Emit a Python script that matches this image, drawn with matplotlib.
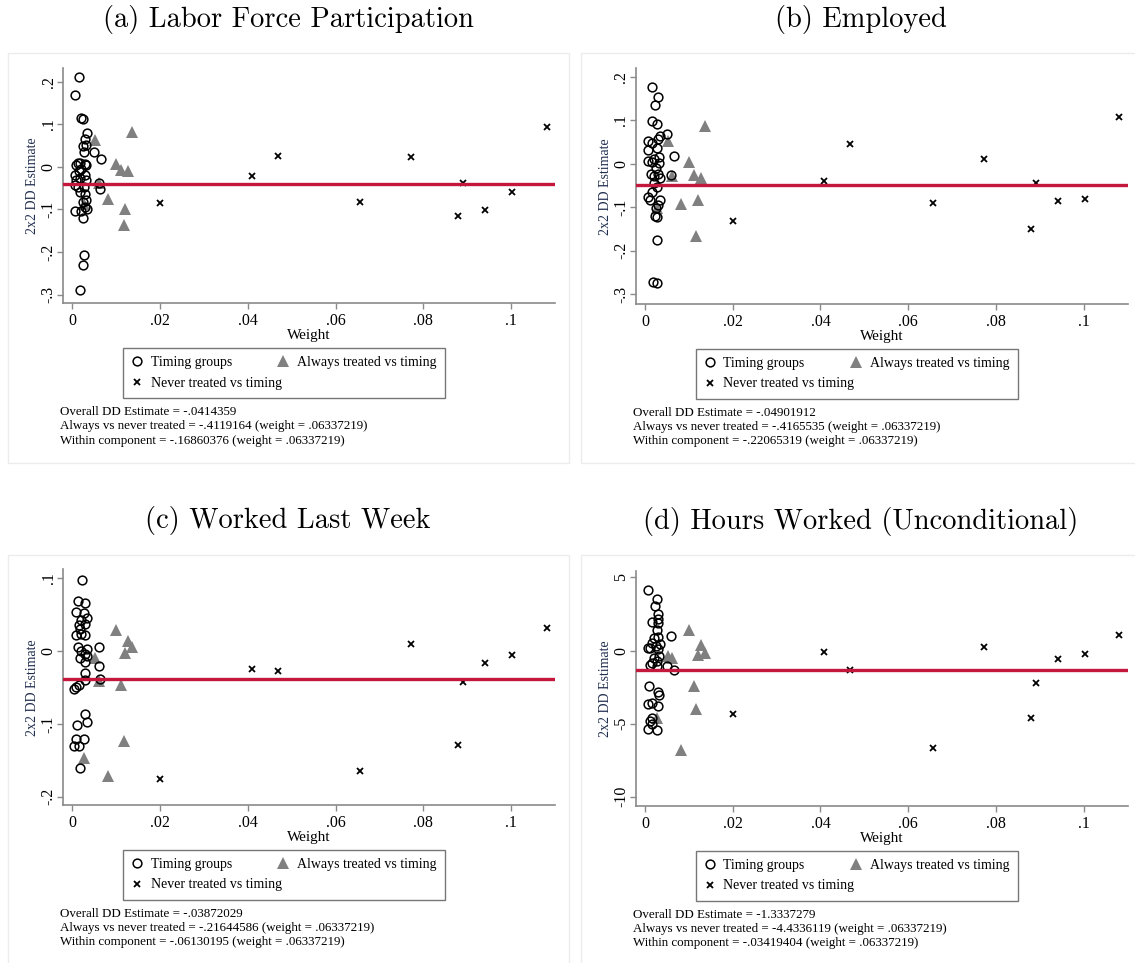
import numpy as np
import matplotlib
matplotlib.use("Agg")
import matplotlib.pyplot as plt
from matplotlib.lines import Line2D
from matplotlib.patches import Rectangle

# ---- data ----
titles = ["(a) Labor Force Participation", "(b) Employed",
          "(c) Worked Last Week", "(d) Hours Worked (Unconditional)"]

always_w = [0.0027, 0.0052, 0.0062, 0.0082, 0.0100, 0.0112, 0.0117, 0.0120, 0.0128, 0.0136]
never_w = [0.0201, 0.0409, 0.0468, 0.0656, 0.0772, 0.0880, 0.0890, 0.0941, 0.1003, 0.1081]

# (a) labor force participation
timing_w_a = [0.00144, 0.00068, 0.00205, 0.00242, 0.00333, 0.00281, 0.0032, 0.00242, 0.00265, 0.00486,
              0.00646, 0.00128, 0.00167, 0.00091, 0.00281, 0.0032, 0.00205, 0.00151, 0.00053, 0.00281,
              0.00183, 0.00091, 0.0032, 0.00053, 0.00128, 0.00258, 0.00607, 0.00623, 0.00183, 0.00281,
              0.0032, 0.00242, 0.00281, 0.00333, 0.00053, 0.00205, 0.00242, 0.00258, 0.00242, 0.00167]
timing_est_a = [0.212, 0.169, 0.114, 0.112, 0.080, 0.065, 0.051, 0.049, 0.034, 0.034,
                0.018, 0.010, 0.008, 0.004, 0.006, 0.004, -0.004, -0.010, -0.020, -0.020,
                -0.027, -0.031, -0.030, -0.043, -0.047, -0.047, -0.039, -0.053, -0.060, -0.063,
                -0.078, -0.082, -0.094, -0.098, -0.104, -0.104, -0.121, -0.206, -0.231, -0.290]
always_est_a = [-0.088, 0.064, -0.038, -0.075, 0.006, -0.008, -0.136, -0.100, -0.009, 0.081]
never_est_a = [-0.084, -0.022, 0.025, -0.082, 0.022, -0.116, -0.037, -0.101, -0.060, 0.094]

# (b) employed
timing_w_b = [0.0016, 0.0030, 0.0023, 0.0016, 0.0027, 0.0050, 0.0035, 0.0030, 0.0008, 0.0016,
              0.0027, 0.0008, 0.0067, 0.0031, 0.0020, 0.0008, 0.0016, 0.0033, 0.0025, 0.0014,
              0.0030, 0.0020, 0.0059, 0.0035, 0.0020, 0.0027, 0.0016, 0.0008, 0.0012, 0.0035,
              0.0030, 0.0025, 0.0023, 0.0027, 0.0027, 0.0018, 0.0027]
timing_est_b = [0.177, 0.153, 0.134, 0.099, 0.090, 0.069, 0.063, 0.057, 0.052, 0.047,
                0.037, 0.032, 0.017, 0.015, 0.011, 0.006, 0.004, 0.001, -0.009, -0.023,
                -0.025, -0.029, -0.027, -0.034, -0.044, -0.054, -0.065, -0.077, -0.083, -0.084,
                -0.096, -0.101, -0.121, -0.122, -0.176, -0.272, -0.275]
always_est_b = [-0.103, 0.053, -0.029, -0.092, 0.004, -0.027, -0.166, -0.084, -0.033, 0.086]
never_est_b = [-0.132, -0.040, 0.044, -0.090, 0.010, -0.151, -0.044, -0.086, -0.082, 0.107]

# (c) worked last week
timing_w_c = [0.0023, 0.0014, 0.0028, 0.0008, 0.0026, 0.0033, 0.0021, 0.0028, 0.0015, 0.0017,
              0.0008, 0.0030, 0.0021, 0.0060, 0.0013, 0.0033, 0.0021, 0.0028, 0.0018, 0.0033,
              0.0030, 0.0061, 0.0064, 0.0030, 0.0028, 0.0015, 0.0009, 0.0005, 0.0030, 0.0033,
              0.0011, 0.0008, 0.0026, 0.0005, 0.0015, 0.0017]
timing_est_c = [0.097, 0.068, 0.066, 0.053, 0.052, 0.045, 0.043, 0.037, 0.036, 0.030,
                0.022, 0.022, 0.024, 0.006, 0.005, 0.003, 0.000, -0.004, -0.010, -0.007,
                -0.015, -0.020, -0.038, -0.030, -0.040, -0.046, -0.049, -0.052, -0.087, -0.098,
                -0.102, -0.121, -0.121, -0.130, -0.130, -0.161]
always_est_c = [-0.147, -0.010, -0.041, -0.172, 0.029, -0.047, -0.123, -0.003, 0.014, 0.005]
never_est_c = [-0.175, -0.024, -0.027, -0.164, 0.009, -0.129, -0.043, -0.016, -0.006, 0.031]

# (d) hours worked
timing_w_d = [0.0008, 0.0027, 0.0023, 0.0030, 0.0030, 0.0030, 0.0015, 0.0027, 0.0059, 0.0020,
              0.0030, 0.0016, 0.0035, 0.0025, 0.0006, 0.0012, 0.0030, 0.0033, 0.0020, 0.0027,
              0.0016, 0.0050, 0.0027, 0.0067, 0.0012, 0.0010, 0.0030, 0.0033, 0.0008, 0.0015,
              0.0030, 0.0016, 0.0012, 0.0016, 0.0008, 0.0027]
timing_est_d = [4.14, 3.52, 3.06, 2.53, 2.14, 1.90, 1.95, 1.40, 0.99, 0.87,
                0.94, 0.53, 0.46, 0.30, 0.19, 0.14, 0.07, -0.35, -0.51, -0.74,
                -0.85, -1.04, -1.08, -1.31, -0.97, -2.46, -2.81, -3.04, -3.66, -3.57,
                -3.78, -4.60, -4.81, -5.04, -5.38, -5.45]
always_est_d = [-4.60, -0.35, -0.50, -6.83, 1.40, -2.42, -4.00, -0.28, 0.37, -0.16]
never_est_d = [-4.35, -0.09, -1.31, -6.67, 0.26, -4.60, -2.23, -0.57, -0.21, 1.06]

overall = [-0.0414359, -0.04901912, -0.03872029, -1.3337279]
always_never = ["-.4119164", "-.4165535", "-.21644586", "-4.4336119"]
within = ["-.16860376", "-.22065319", "-.06130195", "-.03419404"]
overall_txt = ["-.0414359", "-.04901912", "-.03872029", "-1.3337279"]
comp_weight = ".06337219"

x_ticks = [0, 0.02, 0.04, 0.06, 0.08, 0.1]
x_ticklabels = ["0", ".02", ".04", ".06", ".08", ".1"]
y_ticks = [[-0.3, -0.2, -0.1, 0, 0.1, 0.2], [-0.3, -0.2, -0.1, 0, 0.1, 0.2],
           [-0.2, -0.1, 0, 0.1], [-10, -5, 0, 5]]
y_ticklabels = [["-.3", "-.2", "-.1", "0", ".1", ".2"], ["-.3", "-.2", "-.1", "0", ".1", ".2"],
                ["-.2", "-.1", "0", ".1"], ["-10", "-5", "0", "5"]]
y_lims = [(-0.321, 0.232), (-0.3227, 0.2186), (-0.2113, 0.1119), (-10.63, 5.47)]

timing_w = [timing_w_a, timing_w_b, timing_w_c, timing_w_d]
timing_est = [timing_est_a, timing_est_b, timing_est_c, timing_est_d]
always_est = [always_est_a, always_est_b, always_est_c, always_est_d]
never_est = [never_est_a, never_est_b, never_est_c, never_est_d]

# ---- layout (pixels of the 1135x963 canvas) ----
W, H = 1135, 963
def fx(p): return p / W
def fy(p): return 1 - p / H

STATA = "Liberation Serif"
GREY = "#8a8a8a"
RED = "#c3173c"
NAVY = "#1f2d4d"

fig = plt.figure(figsize=(W / 100, H / 100), dpi=100)

# panel offsets: (dx, dy) added to panel (a) pixel positions
offsets = [(0, 0), (572.7, 0.5), (0, 501.5), (572.7, 502.5)]

for i in range(4):
    dx, dy = offsets[i]
    # light panel frame
    fig.add_artist(Rectangle((fx(8 + dx), fy(463 + dy)), fx(561), 410 / H,
                             transform=fig.transFigure, fill=False, ec="#ececec", lw=1))
    # title
    fig.text(fx(288 + dx), fy(19 + dy), titles[i], family="cmr10", fontsize=20.5,
             ha="center", va="center")

    left, right, top, bottom = 63 + dx, 555 + dx, 68 + dy, 303.5 + dy
    ax = fig.add_axes([fx(left), fy(bottom), fx(right - left), (bottom - top) / H])

    ax.plot(always_w, always_est[i], ls="none", marker="^", ms=8.5, mfc="#808080",
            mec="#808080", mew=0, zorder=2)
    ax.plot(timing_w[i], timing_est[i], ls="none", marker="o", ms=6.3, mfc="none",
            mec="black", mew=1.1, zorder=3)
    ax.plot(never_w, never_est[i], ls="none", marker="x", ms=4.2, mec="black",
            mew=1.3, zorder=3)
    ax.axhline(overall[i], color=RED, lw=2.4, zorder=4)

    ax.set_xlim(-0.0021, 0.1100)
    ax.set_ylim(*y_lims[i])
    ax.set_xticks(x_ticks)
    ax.set_xticklabels(x_ticklabels, family=STATA, fontsize=11.5)
    ax.set_yticks(y_ticks[i])
    ax.set_yticklabels(y_ticklabels[i], family=STATA, fontsize=11.5, rotation=90, va="center")
    ax.tick_params(direction="out", length=4, width=1, color=GREY)
    ax.tick_params(axis="x", pad=3)
    ax.tick_params(axis="y", pad=0.5)
    for s in ["top", "right"]:
        ax.spines[s].set_visible(False)
    for s in ["left", "bottom"]:
        ax.spines[s].set_color(GREY)
        ax.spines[s].set_linewidth(1.2)
    ax.set_xlabel("Weight", family=STATA, fontsize=11, labelpad=0)
    ax.set_ylabel("2x2 DD Estimate", family=STATA, fontsize=10, color=NAVY, labelpad=1)
    ax.patch.set_visible(False)

    handles = [Line2D([], [], ls="none", marker="o", ms=6.3, mfc="none", mec="black", mew=1.1),
               Line2D([], [], ls="none", marker="x", ms=4.2, mec="black", mew=1.3),
               Line2D([], [], ls="none", marker="^", ms=8.5, mfc="#808080", mec="#808080", mew=0)]
    labels = ["Timing groups", "Never treated vs timing", "Always treated vs timing"]
    leg = ax.legend(handles, labels, ncol=2, loc="upper left", mode="expand",
                    bbox_to_anchor=(fx(123 + dx), fy(348 + dy), fx(322), 0),
                    bbox_transform=fig.transFigure, frameon=True, fancybox=False,
                    edgecolor="#555555", prop={"family": STATA, "size": 10},
                    handlelength=0.8, handletextpad=0.6, labelspacing=0.55,
                    borderpad=0.6, borderaxespad=0, columnspacing=1.0)
    leg.get_frame().set_linewidth(1.0)

    lines = ["Overall DD Estimate = " + overall_txt[i],
             "Always vs never treated = " + always_never[i] + " (weight = " + comp_weight + ")",
             "Within component = " + within[i] + " (weight = " + comp_weight + ")"]
    fig.text(fx(60 + dx), fy(406 + dy), "\n".join(lines), family=STATA, fontsize=9.4,
             ha="left", va="top", linespacing=1.25)

fig.savefig("out.png", dpi=100)
